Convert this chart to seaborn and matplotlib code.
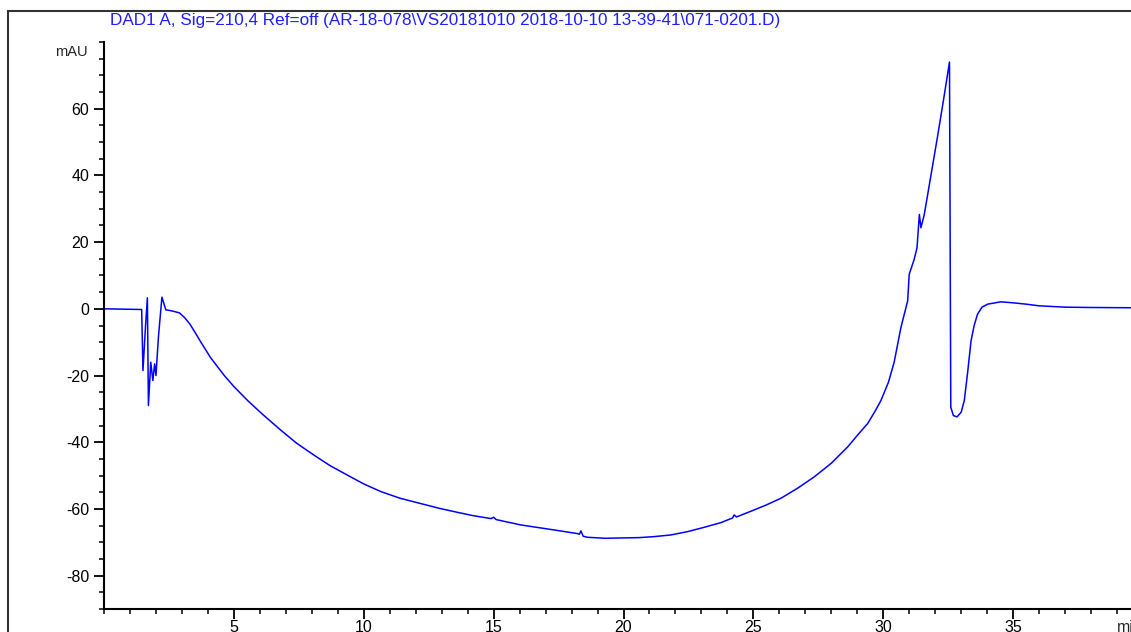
import numpy as np
import pandas as pd
import matplotlib
matplotlib.use("Agg")
import matplotlib.pyplot as plt
import matplotlib.patches as mpatches
from matplotlib.ticker import MultipleLocator
import seaborn as sns

# chromatogram trace (min, mAU)
time_min = [0.0, 1.45, 1.5, 1.6, 1.67, 1.71, 1.8, 1.88, 1.95, 2.0, 2.1, 2.23,
            2.38, 2.6, 2.9, 3.1, 3.3, 3.5, 3.73, 4.1, 4.62, 5.0, 5.53, 6.1,
            6.81, 7.4, 8.09, 8.7, 9.38, 10.0, 10.66, 11.4, 12.2, 12.9, 13.48,
            14.2, 14.9, 15.0, 15.1, 16.05, 17.33, 18.23, 18.3, 18.36, 18.45,
            18.62, 19.3, 19.9, 20.6, 21.18, 21.82, 22.47, 23.11, 23.75, 24.2,
            24.26, 24.35, 25.03, 25.5, 26.06, 26.7, 27.34, 28.0, 28.63, 29.05,
            29.4, 29.7, 29.91, 30.2, 30.42, 30.68, 30.94, 31.0, 31.19, 31.3,
            31.39, 31.45, 31.58, 31.84, 32.1, 32.35, 32.55, 32.6, 32.7, 32.84,
            33.0, 33.12, 33.25, 33.38, 33.5, 33.63, 33.8, 34.02, 34.53, 35.0,
            35.5, 36.0, 36.5, 37.0, 38.0, 40.0]
signal_mau = [0.0, -0.2, -18.5, -5.0, 3.3, -29.0, -16.0, -21.5, -16.5, -20.0,
              -8.0, 3.5, -0.3, -0.6, -1.2, -2.6, -4.5, -7.0, -10.0, -14.6,
              -19.9, -23.3, -27.5, -31.6, -36.4, -40.2, -43.9, -47.0, -49.9,
              -52.5, -54.8, -56.8, -58.4, -59.8, -60.8, -62.0, -62.9, -62.5,
              -63.2, -64.8, -66.3, -67.4, -67.6, -66.6, -68.2, -68.5, -68.8,
              -68.7, -68.6, -68.3, -67.8, -66.8, -65.5, -64.1, -62.7, -61.8,
              -62.4, -60.3, -58.8, -56.8, -53.8, -50.4, -46.3, -41.4, -37.5,
              -34.4, -30.5, -27.5, -22.0, -16.0, -5.6, 2.4, 10.4, 14.8, 18.3,
              28.3, 24.3, 28.3, 40.2, 52.1, 64.1, 74.0, -29.5, -32.0, -32.4,
              -31.0, -27.5, -19.0, -9.6, -5.0, -1.6, 0.5, 1.4, 2.1, 1.8, 1.4,
              0.9, 0.7, 0.5, 0.4, 0.3]

x_ticks = [5, 10, 15, 20, 25, 30, 35]
y_ticks = [-80, -60, -40, -20, 0, 20, 40, 60]
title = ("DAD1 A, Sig=210,4 Ref=off (AR-18-078\\VS20181010 "
         "2018-10-10 13-39-41\\071-0201.D)")

df = pd.DataFrame({"time": time_min, "signal": signal_mau})

sns.set_style("ticks")
plt.rcParams["font.family"] = ["Liberation Sans", "DejaVu Sans"]
plt.rcParams["axes.unicode_minus"] = False

W, H = 1131, 632
fig = plt.figure(figsize=(W / 100, H / 100), dpi=100)
# axes spans x 0..40; right end runs past the figure edge like the reference crop
ax = fig.add_axes([104 / W, 23 / H, 1039 / W, 567 / H])

sns.lineplot(data=df, x="time", y="signal", ax=ax, sort=False,
             estimator=None, color="#0000ff", linewidth=1.1)

ax.set_xlim(0, 40)
ax.set_ylim(-90, 80)
ax.set_xticks(x_ticks)
ax.set_yticks(y_ticks)
ax.xaxis.set_minor_locator(MultipleLocator(1))
ax.yaxis.set_minor_locator(MultipleLocator(5))
ax.tick_params(which="major", direction="out", length=7.2, width=1.3,
               labelsize=11.5, colors="black")
ax.tick_params(axis="x", which="major", pad=1)
ax.tick_params(axis="y", which="major", pad=3.5)
ax.tick_params(which="minor", direction="out", length=3.8, width=1.3)
ax.set_xlabel("")
ax.set_ylabel("")
for side in ["top", "right"]:
    ax.spines[side].set_visible(False)
for side in ["left", "bottom"]:
    ax.spines[side].set_linewidth(1.5)
    ax.spines[side].set_color("black")

fig.text(88 / W, 1 - 52 / H, "mAU", ha="right", va="center", fontsize=10.5)
fig.text(1117 / W, 1 - 628 / H, "min", ha="left", va="center", fontsize=11.5)
fig.text(110 / W, 1 - 20 / H, title, ha="left", va="center", fontsize=12.3,
         color="#1e1eff")

# outer frame around the whole report (cut off at right and bottom)
frame = mpatches.Rectangle((8 / W, -0.1), 1.2, 1.1 - 11 / H,
                           transform=fig.transFigure, fill=False,
                           edgecolor="#333333", linewidth=1.5, clip_on=False)
fig.patches.append(frame)

fig.savefig("out.png", dpi=100)
